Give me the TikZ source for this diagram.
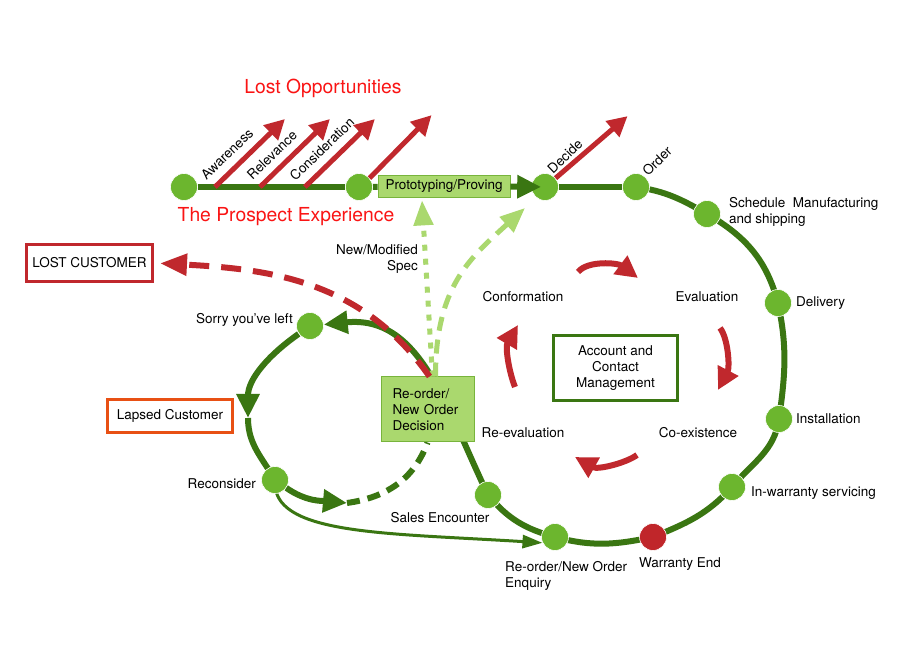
\documentclass[tikz,border=0pt]{standalone}
\usepackage{fontspec}
\setmainfont{TeX Gyre Heros}
\usetikzlibrary{arrows.meta,calc}
\definecolor{dg}{RGB}{58,118,18}
\definecolor{lg}{RGB}{108,182,46}
\definecolor{ar}{RGB}{192,40,45}
\definecolor{pg}{RGB}{170,216,110}
\definecolor{pgb}{RGB}{120,180,60}
\definecolor{lapsed}{RGB}{232,80,20}
\definecolor{wred}{RGB}{192,38,42}
\definecolor{tred}{RGB}{250,20,20}
\pgfdeclarelayer{back}
\pgfdeclarelayer{bg}
\pgfsetlayers{back,bg,main}
\begin{document}
\begin{tikzpicture}[x=1pt,y=1pt,
  font=\fontsize{13.5}{16}\selectfont,
  dot/.style={circle,fill=lg,draw=white,line width=0.6pt,minimum size=27pt,inner sep=0pt},
  wdot/.style={dot,fill=wred},
  lbl/.style={inner sep=0pt,text=black},
  gline/.style={draw=dg,line width=6pt},
  garrow/.style={gline,-{Triangle[length=24pt,width=22pt]}},
  gdash/.style={gline,dash pattern=on 13pt off 8pt},
  gthin/.style={draw=dg,line width=3pt,-{Triangle[length=20pt,width=13pt]}},
  rarrow/.style={draw=ar,line width=5pt,-{Triangle[length=20pt,width=20pt]}},
  rdash/.style={draw=ar,line width=6pt,dash pattern=on 20pt off 12pt,-{Triangle[length=27pt,width=21pt]}},
  ldot/.style={draw=pg,line width=5pt,dash pattern=on 6pt off 8pt,-{Triangle[length=25pt,width=19pt]}},
  ldash/.style={draw=pg,line width=5pt,dash pattern=on 14pt off 9pt,-{Triangle[length=25pt,width=20pt]}},
  rcirc/.style={draw=ar,line width=6pt,-{Triangle[length=22pt,width=22pt]}},
  abox/.style={draw=#1,line width=3pt,fill=white,inner sep=0pt,text=black},
  pbox/.style={rectangle,fill=pg,draw=pgb,line width=0.8pt,inner sep=0pt,text=black},
]
\useasboundingbox (0,0) rectangle (900,660);
\begin{pgfonlayer}{back}
\fill[white] (0,0) rectangle (900,660);
\end{pgfonlayer}

% circles
\node[dot] (a1) at (184,473) {};
\node[dot] (a2) at (359,473) {};
\node[pbox,minimum width=132,minimum height=22] (proto) at (444,474) {Prototyping/Proving};
\node[dot] (dec) at (545,473) {};
\node[dot] (ord) at (636,473) {};
\node[dot] (sch) at (707,446) {};
\node[dot] (del) at (778,357) {};
\node[dot] (ins) at (779,241) {};
\node[dot] (inw) at (732,173) {};
\node[wdot] (wen) at (653,123) {};
\node[dot] (reo) at (555,123) {};
\node[dot] (sal) at (488,165) {};
\node[dot] (sor) at (310,334) {};
\node[dot] (rec) at (275,180) {};
\coordinate (mid) at (248,242);
\coordinate (rtip) at (347,157);

% boxes
\node[abox=ar,minimum width=126,minimum height=37] (lost) at (89.5,397) {LOST CUSTOMER};
\node[abox=lapsed,minimum width=125,minimum height=33] (lapsed) at (170,244) {Lapsed Customer};
\node[abox=dg,minimum width=124,minimum height=65,align=center] (acm) at (615.5,292) {Account and\\Contact\\Management};
\node[pbox,line width=1pt,minimum width=93,minimum height=65,text width=70pt,align=left] (rod) at (427.5,250.5) {Re-order/\\New Order\\Decision};

\begin{pgfonlayer}{bg}
\draw[gline] (a1) -- (a2);
\draw[gline] (a2) -- (proto);
\draw[gline] (dec) -- (ord);
\draw[gline] (ord.center) to[out=-8,in=150] (sch.center) to[out=-30,in=105] (del.center)
  to[out=-78,in=82] (ins.center) to[out=-98,in=50] (inw.center) to[out=-132,in=22] (wen.center)
  to[out=192,in=-15] (reo.center) to[out=165,in=-50] (sal.center);
\draw[garrow] (sal.center) .. controls +(-43,90) and +(110,11) .. (sor);
\draw[garrow] (sor) to[out=215,in=90] (mid);
\draw[gline] (mid) to[out=-90,in=120] (rec.center);
\draw[gthin] (rec.center) .. controls +(-4,-55) and +(-160,10) .. (reo.205);
\draw[gdash] (rtip) to[out=8,in=-110] (rod.south);
\end{pgfonlayer}

\draw[garrow] (rec) to[out=-35,in=175] (rtip);
\draw[garrow,shorten >=-10pt] (proto) -- (dec);

% lost opportunities arrows
\draw[rarrow] ($(a1)!0.177!(a2)$) -- ++(70,68);
\draw[rarrow] ($(a1)!0.434!(a2)$) -- ++(70,68);
\draw[rarrow] ($(a1)!0.691!(a2)$) -- ++(70,68);
\draw[rarrow] (a2.40) -- ++(62,63);
\draw[rarrow] (dec.40) -- ++(72,62);

% dashed connectors from decision box
\draw[ldot] ([xshift=5pt]rod.north) -- ([xshift=-22pt,yshift=-3pt]proto.south);
\draw[ldash] ([xshift=8pt]rod.north) .. controls +(0,90) and +(-55,-50) .. ([shift={(-20pt,-21pt)}]dec.center);
\draw[rdash,shorten >=6pt] ([xshift=2pt]rod.north) to[out=125,in=-3] (lost.east);

% cycle arrows around the account box
\draw[rcirc] (578,388) .. controls (588,400) and (618,397) .. (638,382);
\draw[rcirc] (720,332) .. controls (728,322) and (730,293) .. (718,270);
\draw[rcirc] (637,205) .. controls (626,197) and (598,190) .. (575,203);
\draw[rcirc] (515,273) .. controls (509,288) and (505,313) .. (518,335);

% titles
\node[lbl,text=tred,font=\fontsize{19.3}{22}\selectfont] at (323,572) {Lost Opportunities};
\node[lbl,text=tred,font=\fontsize{19.3}{22}\selectfont] at (286,443) {The Prospect Experience};

% rotated labels
\node[lbl,rotate=44] at (227,506) {Awareness};
\node[lbl,rotate=44] at (272,505) {Relevance};
\node[lbl,rotate=44] at (322,511) {Consideration};
\node[lbl,rotate=44] at (565,504) {Decide};
\node[lbl,rotate=44] at (657,499) {Order};

% labels
\node[lbl] at (523,363) {Conformation};
\node[lbl] at (707,363) {Evaluation};
\node[lbl] at (523,227) {Re-evaluation};
\node[lbl] at (698,227) {Co-existence};
\node[lbl,anchor=east,align=right] at (418,401) {New/Modified\\Spec};
\node[lbl,anchor=east] at (293,340) {Sorry you've left};
\node[lbl,anchor=east] at (256,176) {Reconsider};
\node[lbl] at (440,142) {Sales Encounter};
\node[lbl,anchor=west,align=left] at (505,84) {Re-order/New Order\\Enquiry};
\node[lbl] at (680,96) {Warranty End};
\node[lbl,anchor=west] at (751,167) {In-warranty servicing};
\node[lbl,anchor=west] at (796,241) {Installation};
\node[lbl,anchor=west] at (796,357) {Delivery};
\node[lbl,anchor=west,align=left] at (729,448) {Schedule~ Manufacturing\\and shipping};
\end{tikzpicture}
\end{document}
